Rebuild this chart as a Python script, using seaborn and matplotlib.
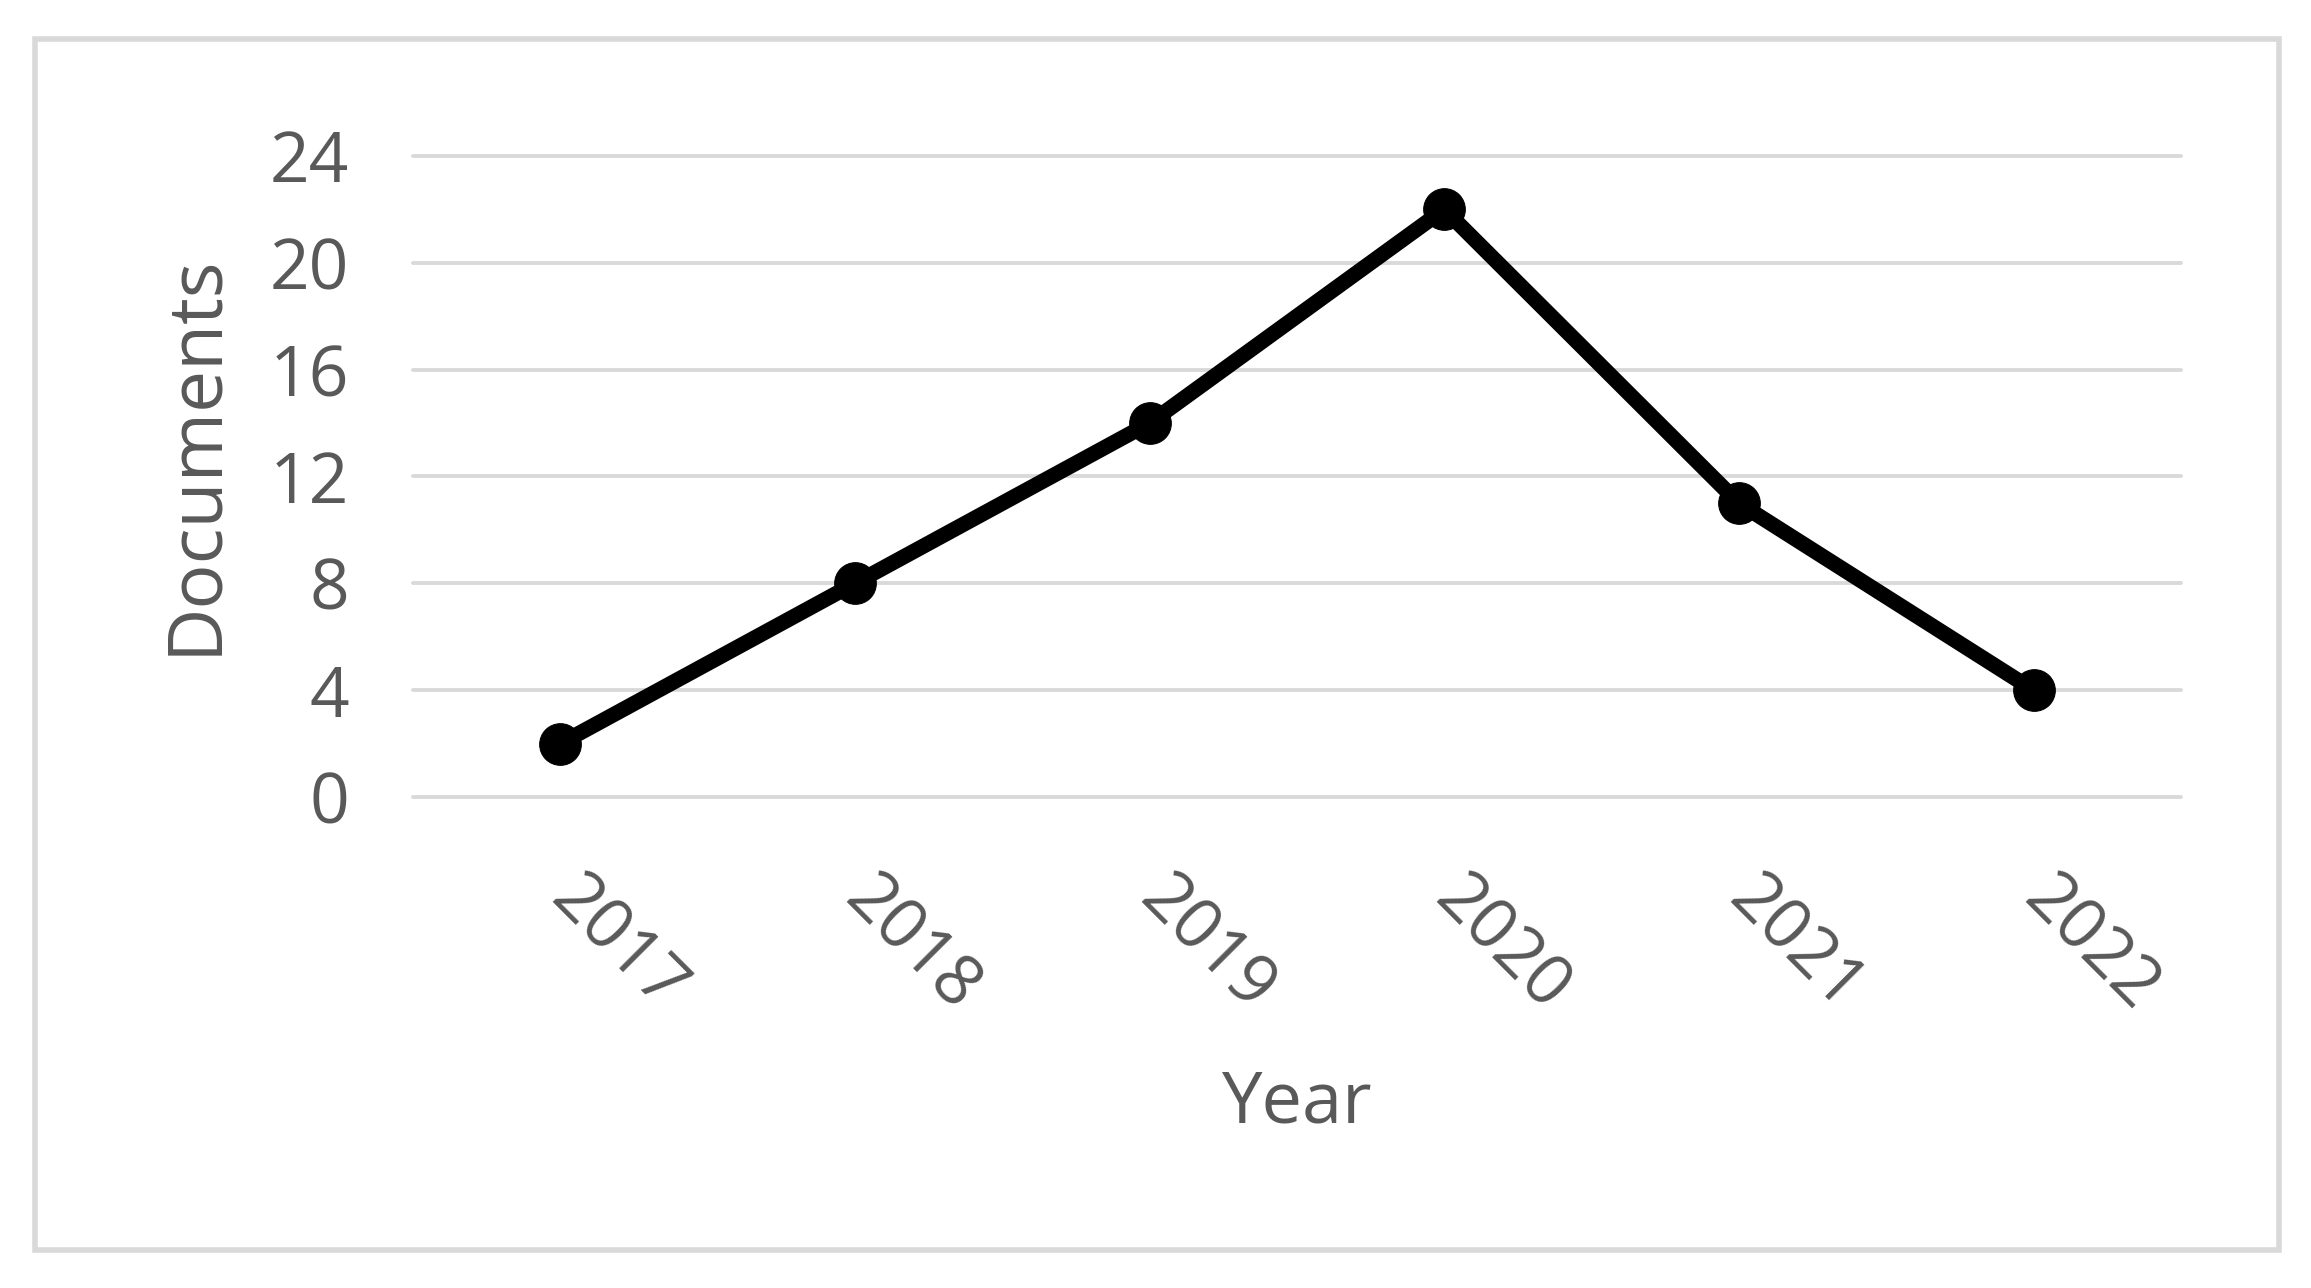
import matplotlib
matplotlib.use("Agg")
import matplotlib.pyplot as plt
import seaborn as sns
import pandas as pd
from matplotlib.patches import Rectangle

years = ["2017", "2018", "2019", "2020", "2021", "2022"]
documents = [2, 8, 14, 22, 11, 4]
y_ticks = [0, 4, 8, 12, 16, 20, 24]

sns.set_style("white")
plt.rcParams["font.family"] = ["Open Sans", "DejaVu Sans"]

text_color = "#595959"
grid_color = "#d9d9d9"

df = pd.DataFrame({"Year": years, "Documents": documents})

fig = plt.figure(figsize=(23.11, 12.88), dpi=100)
ax = fig.add_axes([0.1787, 0.3812, 0.7650, 0.4977])

for t in y_ticks:
    ax.axhline(t, color=grid_color, linewidth=2.8, zorder=0)

sns.lineplot(data=df, x="Year", y="Documents", ax=ax, color="black",
             linewidth=11, marker="o", markersize=30,
             markeredgecolor="black", markerfacecolor="black", zorder=3,
             sort=False)

ax.set_xlim(-0.5, 5.5)
ax.set_ylim(0, 24)
ax.set_yticks(y_ticks)
ax.set_yticklabels([str(t) for t in y_ticks])
ax.set_xticks(range(len(years)))
ax.set_xticklabels(years)
for line in ax.lines:
    line.set_clip_on(False)

for s in ax.spines.values():
    s.set_visible(False)
ax.tick_params(axis="both", length=0, labelsize=50, colors=text_color)
ax.tick_params(axis="y", pad=46)
ax.tick_params(axis="x", pad=66)
for lab in ax.get_xticklabels():
    lab.set_rotation(-45)
    lab.set_ha("left")
    lab.set_va("center")
    lab.set_rotation_mode("anchor")

ax.set_xlabel("Year", fontsize=52, color=text_color, labelpad=30)
ax.set_ylabel("Documents", fontsize=54, color=text_color, labelpad=26)
ax.yaxis.label.set_y(0.535)

fig.patches.append(Rectangle((0.0153, 0.0295), 0.9707, 0.9405,
                             transform=fig.transFigure, fill=False,
                             edgecolor=grid_color, linewidth=4, zorder=0))

fig.savefig("out.png", dpi=100, facecolor="white")
